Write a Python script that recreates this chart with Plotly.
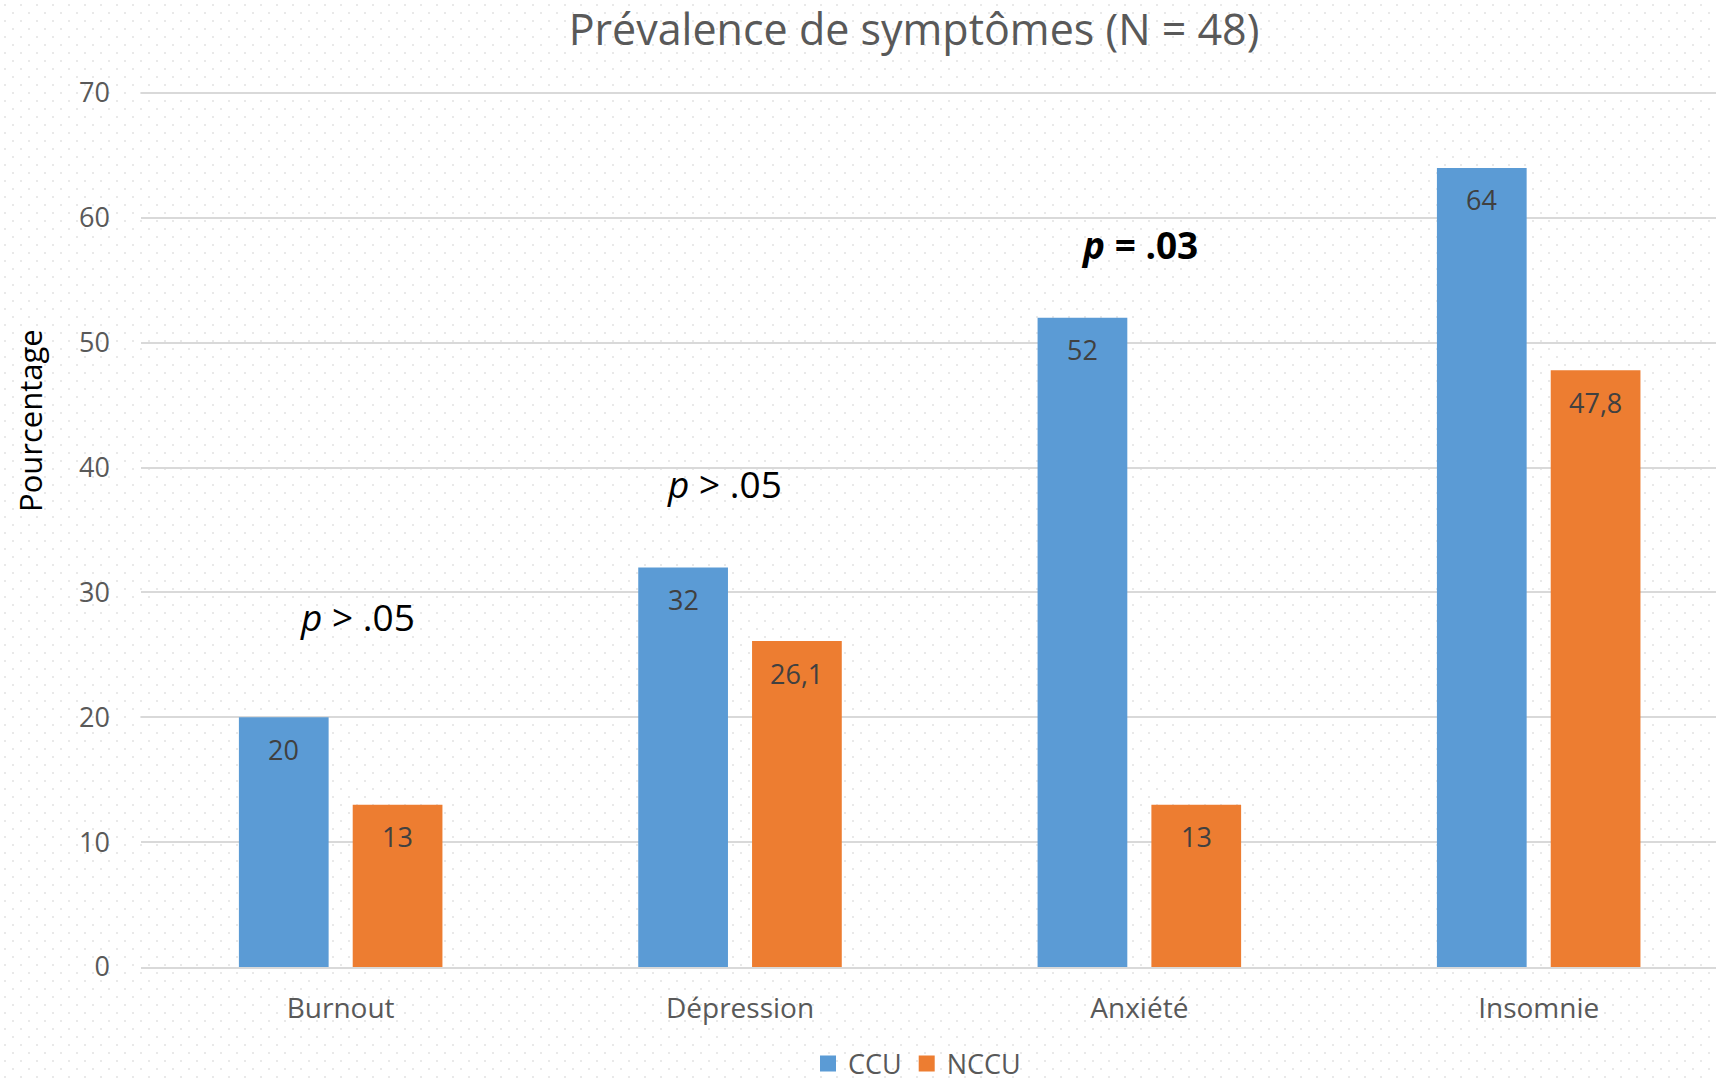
import base64
import plotly.graph_objects as go

# Chart data
categories = ["Burnout", "Dépression", "Anxiété", "Insomnie"]
ccu_values = [20, 32, 52, 64]
nccu_values = [13, 26.1, 13, 47.8]
series_names = ["CCU", "NCCU"]
p_labels = ["<i>p</i> > .05", "<i>p</i> > .05", "<b><i>p</i> = .03</b>", "<i>p > .05</i>"]
p_label_y = [28.1, 38.7, 57.9, 71.0]
p_label_dx = [0.041, -0.038, 0.0, 0.077]
y_ticks = [0, 10, 20, 30, 40, 50, 60, 70]

# Layout geometry
W, H = 1716, 1083
ML, MR, MT, MB = 141, 0, 86, 116
PW, PH = W - ML - MR, H - MT - MB
Y_TOP = 70 * (H - MB - MT) / (H - MB - 93)  # 70 sits at y=93 px
X_RANGE = [-0.5, 3.444]

BLUE = "#5B9BD5"
ORANGE = "#ED7D31"
GRAY = "#595959"
FONT = "Open Sans"

BARGAP = 0.430
BARGROUPGAP = 0.2116


def fmt(v):
    return ("%g" % v).replace(".", ",")


def px_to_paper_x(px):
    return (px - ML) / PW


def px_to_paper_y(py):
    return (H - MB - py) / PH


fig = go.Figure()
fig.add_trace(go.Bar(x=categories, y=ccu_values, name=series_names[0],
                     marker=dict(color=BLUE, line=dict(width=0)),
                     showlegend=False))
fig.add_trace(go.Bar(x=categories, y=nccu_values, name=series_names[1],
                     marker=dict(color=ORANGE, line=dict(width=0)),
                     showlegend=False))
# legend entries with square swatches
for name, color in zip(series_names, [BLUE, ORANGE]):
    fig.add_trace(go.Scatter(x=[None], y=[None], mode="markers", name=name,
                             marker=dict(symbol="square", size=18, color=color)))

annotations = []
# value labels inside the top of each bar
offset = (1 - BARGAP) / 4
for i, (a, b) in enumerate(zip(ccu_values, nccu_values)):
    for dx, v in ((-offset, a), (offset, b)):
        annotations.append(dict(
            x=i + dx, y=v, xref="x", yref="y", text=fmt(v), showarrow=False,
            yshift=-32, yanchor="middle", xanchor="center",
            font=dict(family=FONT, size=27, color="#404040")))

# significance labels above each group
for i, (t, y, dx) in enumerate(zip(p_labels, p_label_y, p_label_dx)):
    annotations.append(dict(
        x=i + dx, y=y, xref="x", yref="y", text=t, showarrow=False,
        yanchor="middle", xanchor="center",
        font=dict(family=FONT, size=37, color="#000000")))

# y axis title
annotations.append(dict(
    x=px_to_paper_x(30), y=px_to_paper_y(421), xref="paper", yref="paper",
    text="Pourcentage", textangle=-90, showarrow=False,
    xanchor="center", yanchor="middle",
    font=dict(family=FONT, size=31, color="#000000")))

# dotted background fill
dots = []
for row, yy in enumerate(range(4, H + 8, 8)):
    start = 4 if row % 2 == 0 else 12
    for xx in range(start, W + 16, 16):
        dots.append('<rect x="%d" y="%d" width="2" height="2"/>' % (xx, yy))
svg = ('<svg xmlns="http://www.w3.org/2000/svg" width="%d" height="%d" '
       'viewBox="0 0 %d %d"><g fill="#E9E9E9">%s</g></svg>'
       % (W, H, W, H, "".join(dots)))
bg_src = "data:image/svg+xml;base64," + base64.b64encode(svg.encode()).decode()

fig.update_layout(
    width=W, height=H,
    margin=dict(l=ML, r=MR, t=MT, b=MB, pad=0, autoexpand=False),
    paper_bgcolor="white", plot_bgcolor="rgba(0,0,0,0)",
    barmode="group", bargap=BARGAP, bargroupgap=BARGROUPGAP,
    font=dict(family=FONT, color=GRAY),
    title=dict(text="Prévalence de symptômes (N = 48)",
               x=914 / W, xanchor="center", xref="container",
               y=1 - 30 / H, yanchor="middle", yref="container",
               font=dict(family=FONT, size=43, color=GRAY)),
    legend=dict(orientation="h", x=px_to_paper_x(917), xanchor="center",
                y=px_to_paper_y(1064), yanchor="middle",
                font=dict(family=FONT, size=27, color=GRAY),
                itemwidth=30, traceorder="normal", bgcolor="rgba(0,0,0,0)"),
    xaxis=dict(range=X_RANGE, showgrid=False, showline=True,
               linecolor="#D9D9D9", linewidth=2, automargin=False,
               ticks="", ticklabelstandoff=15,
               tickfont=dict(family=FONT, size=28, color=GRAY)),
    yaxis=dict(range=[0, Y_TOP], tickvals=y_ticks, showgrid=True,
               gridcolor="#D9D9D9", gridwidth=1.5, zeroline=False,
               showline=False, ticks="", ticklabelstandoff=30,
               automargin=False,
               tickfont=dict(family=FONT, size=27, color=GRAY)),
    annotations=annotations,
    images=[dict(source=bg_src, xref="paper", yref="paper",
                 x=-ML / PW, y=1 + MT / PH, sizex=W / PW, sizey=H / PH,
                 xanchor="left", yanchor="top", sizing="stretch",
                 layer="below")],
    showlegend=True,
)

fig.write_html("out.html")
